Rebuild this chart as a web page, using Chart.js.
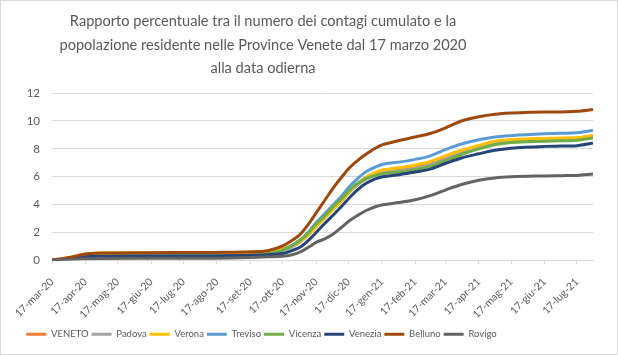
<!DOCTYPE html>
<html>
<head>
<meta charset="utf-8">
<script src="https://cdn.jsdelivr.net/npm/chart.js@4/dist/chart.umd.min.js"></script>
<style>
html,body{margin:0;padding:0;background:#fff;}
#wrap{width:618px;height:355px;position:relative;}
</style>
</head>
<body>
<div id="wrap"><canvas id="c" width="618" height="355"></canvas></div>
<script>
const days = [0,15,30,45,90,150,185,200,214,222,230,238,245,253,261,269,276,284,292,300,307,322,337,351,365,380,396,411,426,457,472,487,502];

const veneto  = [0.02,0.15,0.32,0.38,0.40,0.42,0.47,0.55,0.75,1.00,1.35,1.90,2.50,3.10,3.75,4.35,4.95,5.50,5.90,6.20,6.38,6.52,6.70,6.95,7.35,7.80,8.20,8.50,8.62,8.72,8.75,8.78,8.95];
const padova  = [0.02,0.16,0.35,0.41,0.43,0.44,0.48,0.55,0.72,0.95,1.30,1.85,2.45,3.05,3.70,4.30,4.90,5.45,5.85,6.10,6.28,6.42,6.60,6.85,7.25,7.70,8.10,8.40,8.52,8.62,8.65,8.68,8.82];
const verona  = [0.03,0.20,0.45,0.53,0.56,0.57,0.60,0.68,0.85,1.05,1.35,1.85,2.40,3.05,3.67,4.30,4.95,5.55,6.00,6.30,6.50,6.65,6.85,7.10,7.50,7.90,8.25,8.55,8.68,8.75,8.78,8.80,8.95];
const treviso = [0.02,0.12,0.25,0.29,0.31,0.32,0.36,0.45,0.72,1.05,1.45,2.05,2.70,3.35,4.00,4.65,5.30,5.90,6.40,6.70,6.90,7.05,7.25,7.50,7.95,8.35,8.65,8.85,8.95,9.08,9.12,9.15,9.32];
const vicenza = [0.02,0.12,0.27,0.31,0.33,0.34,0.38,0.48,0.75,1.05,1.45,2.00,2.60,3.20,3.86,4.45,5.05,5.55,5.90,6.10,6.22,6.35,6.50,6.75,7.15,7.60,8.00,8.30,8.45,8.55,8.58,8.62,8.78];
const venezia = [0.02,0.12,0.26,0.30,0.32,0.33,0.37,0.42,0.50,0.70,0.95,1.45,2.00,2.65,3.26,3.90,4.50,5.10,5.55,5.85,6.00,6.15,6.35,6.55,6.95,7.35,7.65,7.90,8.05,8.18,8.20,8.23,8.42];
const belluno = [0.03,0.20,0.45,0.53,0.56,0.58,0.62,0.70,1.05,1.40,1.85,2.60,3.40,4.30,5.20,6.00,6.65,7.20,7.65,8.05,8.30,8.60,8.85,9.10,9.50,10.00,10.30,10.48,10.57,10.65,10.65,10.70,10.82];
const rovigo  = [0.02,0.06,0.12,0.15,0.16,0.17,0.22,0.26,0.30,0.40,0.60,0.95,1.30,1.55,1.90,2.40,2.85,3.25,3.60,3.85,4.00,4.15,4.35,4.65,5.05,5.45,5.75,5.92,6.00,6.06,6.08,6.10,6.20];

const seriesNames = ['VENETO','Padova','Verona','Treviso','Vicenza','Venezia','Belluno','Rovigo'];
const seriesValues = [veneto,padova,verona,treviso,vicenza,venezia,belluno,rovigo];
const seriesColors = ['#ED7D31','#A5A5A5','#FFC000','#5B9BD5','#70AD47','#264478','#9E480E','#636363'];

// x-axis tick positions (days since 17-mar-20) and their labels
const tickDays = [0,31,61,92,122,153,184,214,245,275,306,337,365,396,426,457,487];
const tickLabels = ['17-mar-20','17-apr-20','17-mag-20','17-giu-20','17-lug-20','17-ago-20','17-set-20','17-ott-20','17-nov-20','17-dic-20','17-gen-21','17-feb-21','17-mar-21','17-apr-21','17-mag-21','17-giu-21','17-lug-21'];
const lastDay = 502;

const titleLines = ['Rapporto percentuale tra il numero dei contagi cumulato e la','popolazione residente nelle Province Venete dal 17 marzo 2020','alla data odierna'];

const FONT = 'Lato, "Open Sans", sans-serif';
const TXT = '#595959';
const GRID = '#D9D9D9';
const CENTER_X = 263; // title and legend are centred on this x

const datasets = seriesNames.map((name, k) => ({
  label: name,
  data: days.map((d, i) => ({x: d, y: seriesValues[k][i]})),
  borderColor: seriesColors[k],
  backgroundColor: seriesColors[k],
  borderWidth: 3,
  pointRadius: 0,
  fill: false,
  cubicInterpolationMode: 'monotone',
  order: -k
}));

const framePlugin = {
  id: 'frame',
  afterLayout(chart) {
    if (chart.titleBlock) { chart.titleBlock.left = 2 * CENTER_X - chart.titleBlock.right; }
    if (chart.legend) {
      const p = chart.legend.options.labels.padding;
      chart.legend.left = 2 * CENTER_X - chart.legend.right - p;
    }
  },
  afterDraw(chart) {
    const ctx = chart.ctx;
    ctx.save();
    ctx.strokeStyle = GRID;
    ctx.lineWidth = 1;
    ctx.strokeRect(0.5, 0.5, chart.width - 1, chart.height - 1);
    ctx.restore();
  }
};

new Chart(document.getElementById('c'), {
  type: 'line',
  data: { datasets },
  plugins: [framePlugin],
  options: {
    responsive: false,
    animation: false,
    devicePixelRatio: 1,
    layout: { padding: { left: 0, right: 25, top: 0, bottom: 6 } },
    plugins: {
      title: {
        display: true,
        text: titleLines,
        color: TXT,
        font: { family: FONT, size: 14.6, weight: 'normal', lineHeight: 1.6 },
        padding: { top: 10, bottom: 13 }
      },
      legend: {
        display: true,
        position: 'bottom',
        labels: {
          usePointStyle: true,
          pointStyle: 'line',
          pointStyleWidth: 20,
          color: TXT,
          font: { family: FONT, size: 9.5 },
          padding: 3,
          sort: (a, b) => a.datasetIndex - b.datasetIndex
        }
      },
      tooltip: { enabled: false }
    },
    scales: {
      x: {
        type: 'linear',
        min: 0,
        max: lastDay,
        afterBuildTicks(scale) { scale.ticks = tickDays.map(v => ({ value: v })); },
        afterFit(scale) { scale.height = 66; },
        ticks: {
          autoSkip: false,
          minRotation: 45,
          maxRotation: 45,
          color: TXT,
          font: { family: FONT, size: 10.5 },
          padding: 11,
          callback: (v, i) => tickLabels[i]
        },
        grid: { drawOnChartArea: false, drawTicks: true, tickLength: 4, color: GRID },
        border: { display: true, color: GRID, width: 1 }
      },
      y: {
        min: 0,
        max: 12,
        afterFit(scale) { scale.width = 52; },
        ticks: { stepSize: 2, color: TXT, font: { family: FONT, size: 11.5 }, padding: 12 },
        grid: { color: GRID, drawTicks: false },
        border: { display: false }
      }
    }
  }
});
</script>
</body>
</html>
